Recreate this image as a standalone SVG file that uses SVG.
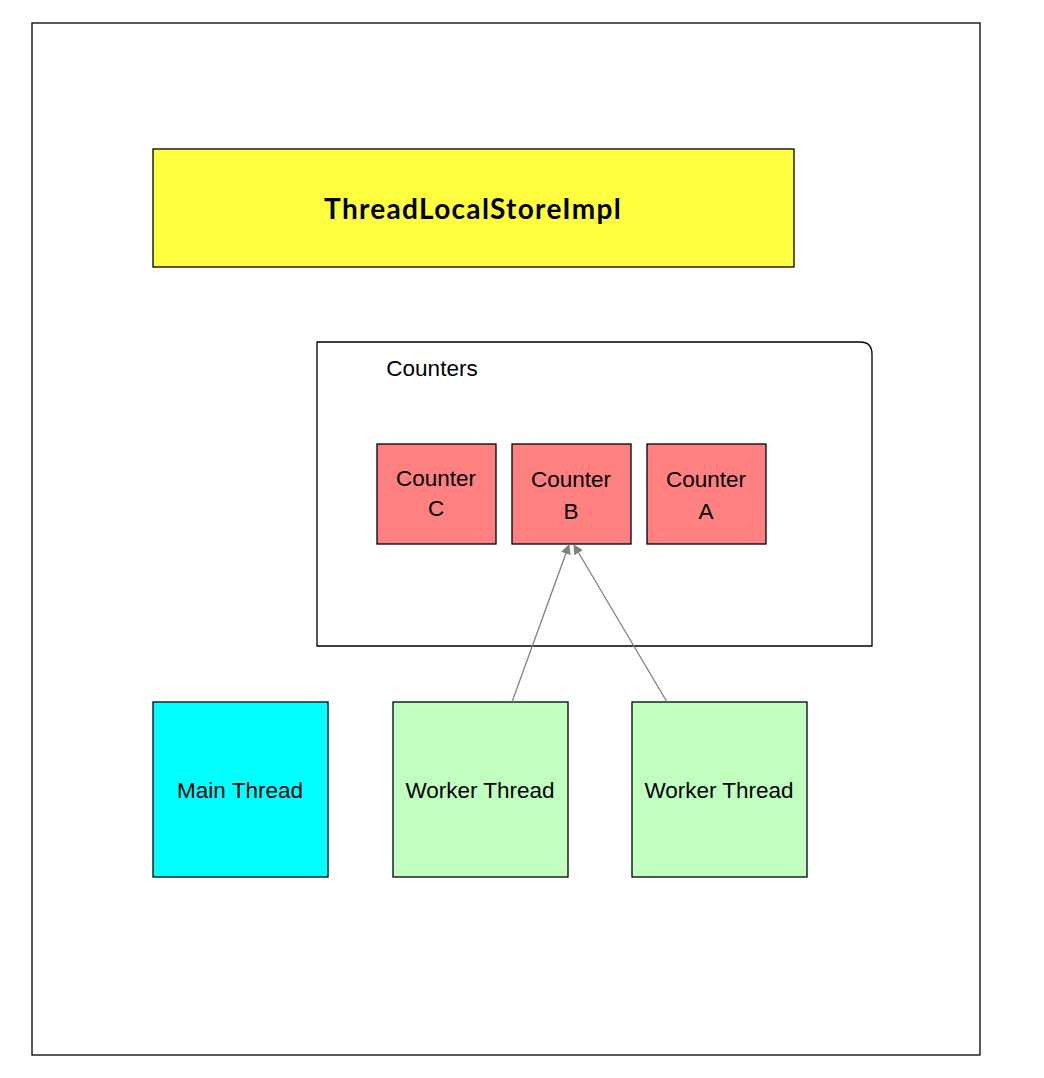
<svg xmlns="http://www.w3.org/2000/svg" width="1044" height="1078" viewBox="0 0 1044 1078">
<style>
.b{stroke:#000;stroke-width:1.3}
.t{font-family:"Liberation Sans",Arial,sans-serif;font-size:22.5px;fill:#000;text-anchor:middle}
.c{fill:#ff8080}
.w{fill:#c0ffc0}
.e{stroke:#808080;stroke-width:1.3;fill:none;marker-end:url(#ah)}
</style>
<defs>
<marker id="ah" markerWidth="10" markerHeight="10" refX="9" refY="5" orient="auto" markerUnits="userSpaceOnUse">
<path d="M0,0 L10,5 L0,10 Z" fill="#808080"/>
</marker>
</defs>
<rect width="1044" height="1078" fill="#fff"/>
<g id="frame"><rect x="32" y="23" width="948" height="1032" fill="#fff" class="b"/></g>
<g id="store">
<rect x="153" y="149" width="641" height="118" fill="#ffff40" class="b"/>
<text x="473" y="219" class="t" style="font-family:'Lato','Open Sans',sans-serif;font-weight:bold;font-size:28px;letter-spacing:1.3px">ThreadLocalStoreImpl</text>
</g>
<g id="counters">
<path d="M317,342 H860 Q872,342 872,354 V646 H317 Z" fill="#fff" class="b"/>
<text x="432" y="376" class="t">Counters</text>
</g>
<g id="counterC"><rect x="377" y="444" width="119" height="100" class="c b"/><text x="436" y="486" class="t">Counter</text><text x="436" y="516" class="t">C</text></g>
<g id="counterB"><rect x="512" y="444" width="119" height="100" class="c b"/><text x="571" y="487" class="t">Counter</text><text x="571" y="519" class="t">B</text></g>
<g id="counterA"><rect x="647" y="444" width="119" height="100" class="c b"/><text x="706" y="487" class="t">Counter</text><text x="706" y="519" class="t">A</text></g>
<g id="main"><rect x="153" y="702" width="175" height="175" fill="#00ffff" class="b"/><text x="240" y="798" class="t">Main Thread</text></g>
<g id="worker1"><rect x="393" y="702" width="175" height="175" class="w b"/><text x="480" y="798" class="t">Worker Thread</text></g>
<g id="worker2"><rect x="632" y="702" width="175" height="175" class="w b"/><text x="719" y="798" class="t">Worker Thread</text></g>
<g id="connectors">
<line x1="512" y1="702" x2="569" y2="545" class="e"/>
<line x1="667" y1="702" x2="574" y2="545" class="e"/>
</g>
</svg>
